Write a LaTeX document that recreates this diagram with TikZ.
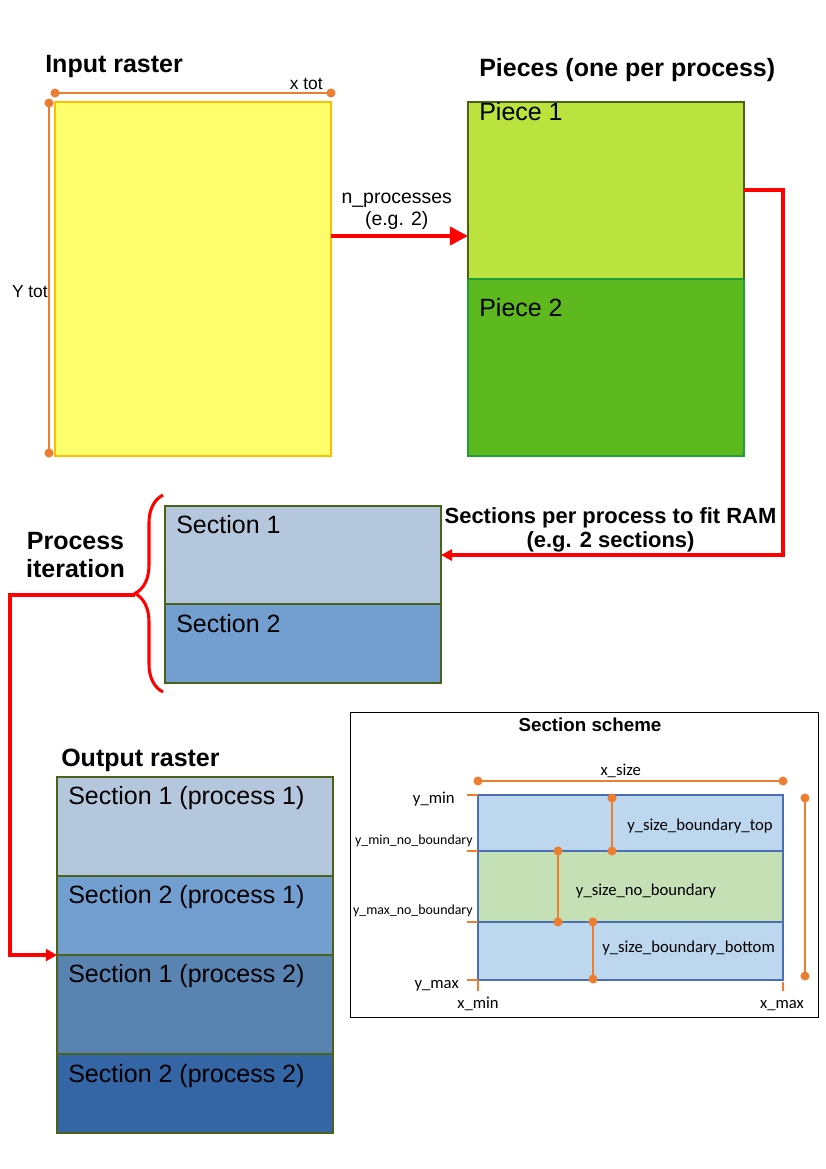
\documentclass[tikz,border=0pt]{standalone}
\usepackage{fontspec}
\setmainfont{Liberation Sans}
\newfontfamily\calibri{Carlito}
\usepackage{tikz}
\usetikzlibrary{arrows,arrows.meta,calc,decorations.pathreplacing}
\usetikzlibrary{positioning}

\definecolor{inputfill}{HTML}{FFFF6D}
\definecolor{inputline}{HTML}{FFBF00}
\definecolor{dimorange}{HTML}{ED7D31}
\definecolor{pieceonefill}{HTML}{BBE33D}
\definecolor{piecetwofill}{HTML}{5EB91E}
\definecolor{piecetwoline}{HTML}{1F9F3C}
\definecolor{oliveline}{HTML}{4A6318}
\definecolor{secone}{HTML}{B4C7DC}
\definecolor{sectwo}{HTML}{729FCF}
\definecolor{secthree}{HTML}{5983B0}
\definecolor{secfour}{HTML}{3465A4}
\definecolor{schemeblue}{HTML}{BDD7EE}
\definecolor{schemegreen}{HTML}{C5E0B4}
\definecolor{schemeline}{HTML}{4A6FB5}
\definecolor{arrowred}{HTML}{FF0000}

\begin{document}
\begin{tikzpicture}[x=0.72pt,y=-0.72pt,
    rasterbox/.style={draw=oliveline,line width=1.1pt,inner sep=0pt,outer sep=0pt,
      anchor=north west,minimum width=198.7pt},
    boxtext/.style={anchor=base west,inner sep=0pt,font=\fontsize{18}{20}\selectfont},
    titletext/.style={anchor=base west,inner sep=0pt,font=\fontsize{18}{20}\selectfont\bfseries},
    dimline/.style={draw=dimorange,line width=1.5pt,
      {Circle[length=6.4pt]}-{Circle[length=6.4pt]},shorten <=-3.2pt,shorten >=-3.2pt},
    redline/.style={draw=arrowred,line width=2.9pt},
    schemebox/.style={draw=schemeline,line width=0.8pt,inner sep=0pt,outer sep=0pt,
      minimum width=219.6pt},
    schemetext/.style={inner sep=0pt,font=\calibri\fontsize{12}{14}\selectfont},
    schemesmall/.style={inner sep=0pt,font=\calibri\fontsize{10}{12}\selectfont},
    tick/.style={draw=dimorange,line width=1.4pt}]

    \useasboundingbox (0,0) rectangle (826,1169);

    % input raster
    \node (inputtitle) [titletext] at (45,72) {Input raster};
    \node (input) [rasterbox,draw=inputline,fill=inputfill,minimum height=254.9pt] at (55,102) {};
    \draw [dimline] ($ (input.north west) + (0,-9) $) coordinate (xtot-start)
      -- ($ (input.north east) + (0,-9) $) coordinate (xtot-end);
    \node (xtot) [anchor=base east,inner sep=0pt,font=\fontsize{12.5}{14}\selectfont] at (323,89) {x tot};
    \draw [dimline] ($ (input.north west) + (-6,1) $) coordinate (ytot-start)
      -- ($ (input.south west) + (-6,-3) $) coordinate (ytot-end);
    \node (ytot) [anchor=base east,inner sep=0pt,font=\fontsize{12.5}{14}\selectfont] at (48,297) {Y tot};

    % pieces
    \node (piecestitle) [titletext] at (479,76) {Pieces (one per process)};
    \node (piece1) [rasterbox,fill=pieceonefill,minimum height=127.4pt] at (468,102) {};
    \node (piece2) [rasterbox,draw=piecetwoline,fill=piecetwofill,minimum height=127.4pt,
      anchor=north,below=0pt of piece1] {};
    \draw [oliveline,line width=1.1pt] (piece1.south west) -- (piece1.north west)
      -- (piece1.north east) -- (piece1.south east);
    \node (piece1text) [boxtext] at ($ (piece1.north west) + (11,18) $) {Piece 1};
    \node (piece2text) [boxtext] at ($ (piece2.north west) + (11,38) $) {Piece 2};

    \draw [redline,-{Triangle[length=13pt,width=13pt]}] (input.east |- 0,236) -- (piece1.west |- 0,236)
      node (nproc) [above=3pt,pos=0.48,align=center,font=\fontsize{14}{16}\selectfont,inner sep=0pt]
      {n\_processes\\(e.g. 2)};

    % sections of one process
    \node (sec1) [rasterbox,fill=secone,minimum height=70.6pt] at (165,506) {};
    \node (sec2) [rasterbox,fill=sectwo,minimum height=56.9pt,anchor=north,below=0pt of sec1] {};
    \node (sec1text) [boxtext] at ($ (sec1.north west) + (11,27) $) {Section 1};
    \node (sec2text) [boxtext] at ($ (sec2.north west) + (11,28) $) {Section 2};

    \draw [redline,-{Triangle[length=8pt,width=8pt]}] (piece1.east) -- ++(39,0) |- (sec1.east);
    \node (ramtext) [align=center,inner sep=0pt,font=\fontsize{15.8}{17.3}\selectfont\bfseries]
      at (610.5,530) {Sections per process to fit RAM\\(e.g. 2 sections)};

    \draw [draw=arrowred,line width=2.2pt,decorate,decoration={brace,amplitude=20.2pt}]
      (163,692) -- (163,495);
    \coordinate (itertip) at (135,595);
    \node (itertext) [align=center,inner sep=0pt,font=\fontsize{18}{20}\selectfont\bfseries]
      at (75.5,555) {Process\\iteration};

    % output raster
    \node (outtitle) [titletext] at (61,766) {Output raster};
    \node (o1p1) [rasterbox,fill=secone,minimum height=71.3pt] at (57,777) {};
    \node (o2p1) [rasterbox,fill=sectwo,minimum height=56.9pt,anchor=north,below=0pt of o1p1] {};
    \node (o1p2) [rasterbox,fill=secthree,minimum height=71.3pt,anchor=north,below=0pt of o2p1] {};
    \node (o2p2) [rasterbox,fill=secfour,minimum height=56.9pt,anchor=north,below=0pt of o1p2] {};
    \node (o1p1text) [boxtext] at ($ (o1p1.north west) + (11,27) $) {Section 1 (process 1)};
    \node (o2p1text) [boxtext] at ($ (o2p1.north west) + (11,27) $) {Section 2 (process 1)};
    \node (o1p2text) [boxtext] at ($ (o1p2.north west) + (11,27) $) {Section 1 (process 2)};
    \node (o2p2text) [boxtext] at ($ (o2p2.north west) + (11,28) $) {Section 2 (process 2)};

    \draw [draw=arrowred,line width=2.6pt,-{Triangle[length=8pt,width=8.5pt]}]
      (itertip) -- ++(-125,0) |- (o1p2.north west);

    % section scheme
    \node (scheme) [draw=black,line width=0.7pt,inner sep=0pt,anchor=north west,
      minimum width=337pt,minimum height=219.6pt] at (350,712) {};
    \node (schemetitle) [anchor=base,inner sep=0pt,font=\fontsize{13.5}{15}\selectfont\bfseries]
      at (590,731) {Section scheme};

    \node (top) [schemebox,fill=schemeblue,anchor=north west,minimum height=40.3pt] at (478,795) {};
    \node (mid) [schemebox,fill=schemegreen,minimum height=51.1pt,anchor=north,below=0pt of top] {};
    \node (bot) [schemebox,fill=schemeblue,minimum height=41.8pt,anchor=north,below=0pt of mid] {};

    \foreach \p in {top.north west,mid.north west,bot.north west,bot.south west}
      \draw [tick] (\p) -- ++(-11,0);
    \draw [tick] (bot.south west) -- ++(0,11);
    \draw [tick] ($ (bot.south east) + (0,2) $) -- ++(0,9);

    \draw [dimline,line width=1.4pt] ($ (top.north west) + (0,-14) $) -- ($ (top.north east) + (0,-14) $);
    \draw [dimline,line width=1.4pt] ($ (top.north west) + (134,3) $) -- ($ (top.south west) + (134,0) $);
    \draw [dimline,line width=1.4pt] ($ (mid.north west) + (80,0) $) -- ($ (mid.south west) + (80,0) $);
    \draw [dimline,line width=1.4pt] ($ (bot.north west) + (115,0) $) -- ($ (bot.south west) + (115,-1) $);
    \draw [dimline,line width=1.4pt] ($ (top.north east) + (22,3) $) -- ($ (bot.south east) + (22,-4) $);

    \node (xsize) [schemetext,anchor=base] at (620.7,775) {x\_size};
    \node (ymin) [schemetext,anchor=base east] at (455,803) {y\_min};
    \node (yminnb) [schemesmall,anchor=base east] at (473,844) {y\_min\_no\_boundary};
    \node (ymaxnb) [schemesmall,anchor=base east] at (473,914) {y\_max\_no\_boundary};
    \node (ymax) [schemetext,anchor=base east] at (459,988) {y\_max};
    \node (xmin) [schemetext,anchor=base] at (478,1008) {x\_min};
    \node (xmax) [schemetext,anchor=base] at (782,1008) {x\_max};
    \node (ysizetop) [schemetext,anchor=base west] at (627,830) {y\_size\_boundary\_top};
    \node (ysizenb) [schemetext,anchor=base] at (646,895) {y\_size\_no\_boundary};
    \node (ysizebot) [schemetext,anchor=base west] at (602,952) {y\_size\_boundary\_bottom};

\end{tikzpicture}
\end{document}
